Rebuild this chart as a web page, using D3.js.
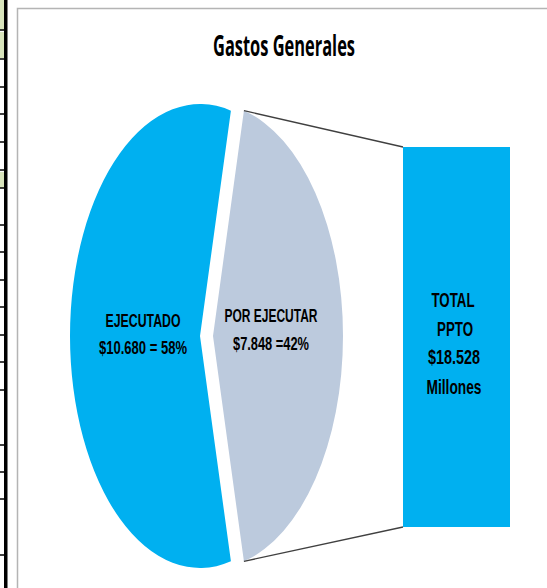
<!DOCTYPE html>
<html>
<head>
<meta charset="utf-8">
<script src="https://cdn.jsdelivr.net/npm/d3@7"></script>
<style>
  html, body { margin: 0; padding: 0; background: #fff; }
  svg { display: block; }
  text { font-family: "Liberation Sans", Arial, sans-serif; font-weight: bold; fill: #000; }
</style>
</head>
<body>
<svg id="chart" width="547" height="588"></svg>
<script>
// ---- data ----
const title = "Gastos Generales";
const categories = ["EJECUTADO", "POR EJECUTAR"];
const values = [10680, 7848];
const valueLabels = ["$10.680 = 58%", "$7.848 =42%"];
const barLabels = ["TOTAL", "PPTO", "$18.528", "Millones"];
const colors = ["#00b0f0", "#bccadd"];
const barColor = "#00b0f0";

// ---- spreadsheet remnants on the left ----
const gridLinesY = [30, 59, 87, 114, 142, 170, 188, 225, 252, 280, 307, 335, 362, 390, 445, 472, 499, 555];
const greenCells = [[0, 30], [32, 58], [172, 188]];

const svg = d3.select("#chart");

svg.selectAll("rect.cell").data(greenCells).join("rect")
  .attr("x", 0).attr("y", d => d[0]).attr("width", 5).attr("height", d => d[1] - d[0])
  .attr("fill", "#d8e4bc");
svg.selectAll("line.grid").data(gridLinesY).join("line")
  .attr("x1", 0).attr("x2", 5).attr("y1", d => d).attr("y2", d => d)
  .attr("stroke", "#000").attr("stroke-width", 1.5);
svg.append("rect").attr("x", 4).attr("y", 0).attr("width", 3.5).attr("height", 588).attr("fill", "#000");

// chart frame
svg.append("path")
  .attr("d", "M17.5,588 L17.5,8.5 L547,8.5")
  .attr("fill", "none").attr("stroke", "#b4b4b4").attr("stroke-width", 1.5);

// title
svg.append("text")
  .attr("x", 284).attr("y", 56)
  .attr("text-anchor", "middle")
  .attr("font-size", 29)
  .attr("textLength", 142).attr("lengthAdjust", "spacingAndGlyphs")
  .style("font-family", "'Open Sans', 'Liberation Sans', sans-serif")
  .style("font-weight", "700")
  .text(title);

// ---- pie (ellipse) ----
const total = d3.sum(values);
const fGray = values[1] / total;
const startA = Math.PI / 2 + fGray * Math.PI;
const pie = d3.pie().sort(null).value(d => d).startAngle(startA).endAngle(startA + 2 * Math.PI);
const arcs = pie(values);

const Ry = 232, Rx = 130, cy = 336;
const centersX = [200, 213];
const arc = d3.arc().innerRadius(0).outerRadius(Ry);

arcs.forEach((a, i) => {
  svg.append("g")
    .attr("transform", `translate(${centersX[i]},${cy}) scale(${Rx / Ry},1)`)
    .append("path")
    .attr("d", arc(a))
    .attr("fill", colors[i]);
});

// ---- bar ----
const barX0 = 403, barX1 = 510;
const y = d3.scaleLinear().domain([0, values[1]]).range([527, 147]);
svg.append("rect")
  .attr("x", barX0).attr("y", y(values[1]))
  .attr("width", barX1 - barX0).attr("height", y(0) - y(values[1]))
  .attr("fill", barColor);

// connector lines
const g = arcs[1];
const pt = ang => [centersX[1] + Math.sin(ang) * Rx, cy - Math.cos(ang) * Ry];
const pTop = pt(g.startAngle), pBot = pt(g.endAngle);
svg.append("line").attr("x1", pTop[0]).attr("y1", pTop[1]).attr("x2", barX0).attr("y2", y(values[1]))
  .attr("stroke", "#404040").attr("stroke-width", 1.3);
svg.append("line").attr("x1", pBot[0]).attr("y1", pBot[1]).attr("x2", barX0).attr("y2", y(0))
  .attr("stroke", "#404040").attr("stroke-width", 1.3);

// ---- labels ----
const pieLabels = [
  { x: 143, lines: [categories[0], valueLabels[0]], ys: [327, 354], lens: [75, 88] },
  { x: 271, lines: [categories[1], valueLabels[1]], ys: [322, 350], lens: [93, 76] }
];
pieLabels.forEach(l => {
  l.lines.forEach((t, j) => {
    svg.append("text")
      .attr("x", l.x).attr("y", l.ys[j])
      .attr("text-anchor", "middle")
      .attr("font-size", 18)
      .attr("textLength", l.lens[j]).attr("lengthAdjust", "spacingAndGlyphs")
      .text(t);
  });
});

const barYs = [307, 336, 364, 394];
const barLens = [43, 36, 52, 55];
const barXs = [453, 455, 454, 454];
barLabels.forEach((t, j) => {
  svg.append("text")
    .attr("x", barXs[j]).attr("y", barYs[j])
    .attr("text-anchor", "middle")
    .attr("font-size", 20.5)
    .attr("textLength", barLens[j]).attr("lengthAdjust", "spacingAndGlyphs")
    .text(t);
});
</script>
</body>
</html>
